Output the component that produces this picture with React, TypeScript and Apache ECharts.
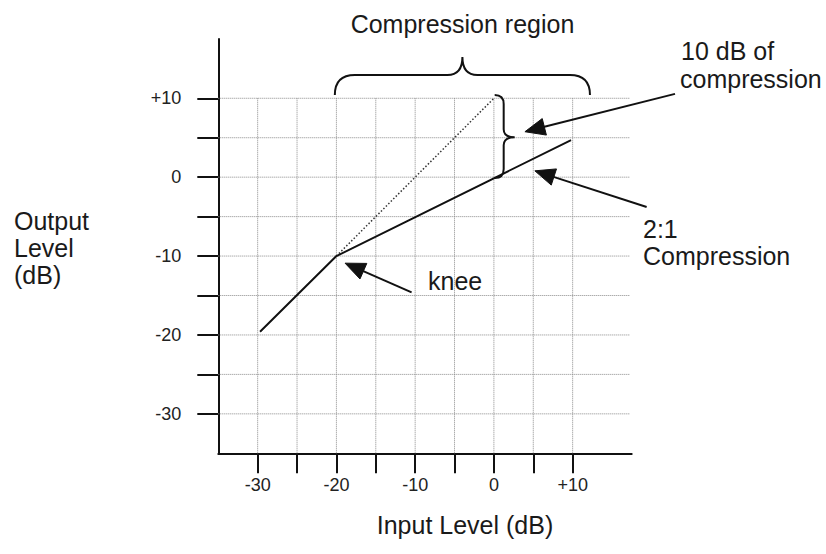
import React, { useEffect, useRef } from 'react';
import * as echarts from 'echarts';

// ---- data ----
const xTickValues = [-30, -25, -20, -15, -10, -5, 0, 5, 10];
const xLabelValues = [-30, -20, -10, 0, 10];
const yTickValues = [-30, -25, -20, -15, -10, -5, 0, 5, 10];
const yLabelValues = [-30, -20, -10, 0, 10];
const inputLevels = [-29.7, -20, 9.8];
const outputLevels = [-19.6, -10, 4.7];
const uncompressedInput = [-20, 0];
const uncompressedOutput = [-10, 10];

// ---- layout (data-space anchors for annotations) ----
const AXIS_MIN = -35;
const AXIS_MAX = 17.5;
const GRID_X_END = 17.3;
const GRID_Y_TOP = 10;
const BRACE_H = { x0: -20.2, x1: 12.2, tipX: -4, y: 10.4 };
const BRACE_V = { x: 0.1, y0: 10.4, y1: -0.1, tipY: 5.05 };
const ARROWS = [
  { from: [23.0, 10.56], to: [3.94, 5.76] },
  { from: [19.4, -3.78], to: [5.2, 0.8] },
  { from: [-10.45, -14.6], to: [-18.9, -10.9] },
];

const FONT = '"Liberation Sans", Arial, sans-serif';
const INK = '#111';

function fmt(v: number) {
  return v > 0 ? '+' + v : String(v);
}

function txt(text: string, x: number, y: number, align = 'left') {
  return {
    type: 'text',
    x,
    y,
    silent: true,
    style: {
      text,
      fontSize: 25,
      fontFamily: FONT,
      lineHeight: 22,
      fill: '#1a1a1a',
      align,
      verticalAlign: 'middle',
      textAlign: align,
      textVerticalAlign: 'middle',
    },
  };
}

export default function App() {
  const ref = useRef<HTMLDivElement>(null);

  useEffect(() => {
    if (!ref.current) return;
    const chart = echarts.init(ref.current, undefined, { renderer: 'svg' });

    const renderAnnotations = (_p: any, api: any) => {
      const P = (x: number, y: number) => api.coord([x, y]);
      const children: any[] = [];
      const stroke = { stroke: INK, lineWidth: 2, fill: 'none' };

      // horizontal brace (compression region)
      const [lx, by] = P(BRACE_H.x0, BRACE_H.y);
      const [rx] = P(BRACE_H.x1, BRACE_H.y);
      const [mx] = P(BRACE_H.tipX, BRACE_H.y);
      const barY = by - 20;
      const tipY = by - 38;
      const dH =
        `M${lx} ${by} Q${lx} ${barY} ${lx + 20} ${barY} L${mx - 15} ${barY} ` +
        `Q${mx} ${barY} ${mx} ${tipY} Q${mx} ${barY} ${mx + 15} ${barY} ` +
        `L${rx - 20} ${barY} Q${rx} ${barY} ${rx} ${by}`;
      children.push({ type: 'path', shape: { pathData: dH }, style: stroke });

      // vertical brace (10 dB)
      const [tx, ty] = P(BRACE_V.x, BRACE_V.y0);
      const [, bty] = P(BRACE_V.x, BRACE_V.y1);
      const [, my] = P(BRACE_V.x, BRACE_V.tipY);
      const barX = tx + 9;
      const tipX = tx + 20;
      const dV =
        `M${tx} ${ty} Q${barX} ${ty} ${barX} ${ty + 9} L${barX} ${my - 8} ` +
        `Q${barX} ${my} ${tipX} ${my} Q${barX} ${my} ${barX} ${my + 8} ` +
        `L${barX} ${bty - 9} Q${barX} ${bty} ${tx} ${bty}`;
      children.push({ type: 'path', shape: { pathData: dV }, style: stroke });

      // arrows
      ARROWS.forEach((a) => {
        const [x1, y1] = P(a.from[0], a.from[1]);
        const [x2, y2] = P(a.to[0], a.to[1]);
        const dx = x2 - x1;
        const dy = y2 - y1;
        const len = Math.sqrt(dx * dx + dy * dy);
        const ux = dx / len;
        const uy = dy / len;
        const L = 20;
        const W = 8.5;
        const bx = x2 - ux * L;
        const byy = y2 - uy * L;
        children.push({
          type: 'line',
          shape: { x1, y1, x2: bx + ux * 2, y2: byy + uy * 2 },
          style: { stroke: INK, lineWidth: 2 },
        });
        children.push({
          type: 'polygon',
          shape: {
            points: [
              [x2, y2],
              [bx - uy * W, byy + ux * W],
              [bx + uy * W, byy - ux * W],
            ],
          },
          style: { fill: INK, stroke: INK, lineWidth: 1 },
        });
      });

      return { type: 'group', children };
    };

    const option: any = {
      animation: false,
      backgroundColor: '#ffffff',
      grid: {
        left: 218.3,
        top: 39.1,
        right: 826 - 631.7,
        bottom: 554 - 453.3,
        containLabel: false,
        outerBoundsMode: 'none',
      },
      xAxis: {
        type: 'value',
        min: AXIS_MIN,
        max: AXIS_MAX,
        axisLine: { show: true, onZero: false, lineStyle: { color: INK, width: 2 } },
        axisTick: {
          show: true,
          inside: false,
          length: 20,
          customValues: xTickValues,
          lineStyle: { color: INK, width: 2 },
        },
        axisLabel: {
          show: true,
          customValues: xLabelValues,
          formatter: (v: number) => fmt(v),
          fontSize: 18,
          fontFamily: FONT,
          color: '#222',
          margin: 23,
        },
        splitLine: { show: false },
      },
      yAxis: {
        type: 'value',
        min: AXIS_MIN,
        max: AXIS_MAX,
        axisLine: { show: true, onZero: false, lineStyle: { color: INK, width: 2 } },
        axisTick: {
          show: true,
          inside: false,
          length: 21,
          customValues: yTickValues,
          lineStyle: { color: INK, width: 2 },
        },
        axisLabel: {
          show: true,
          customValues: yLabelValues,
          formatter: (v: number) => fmt(v),
          fontSize: 18,
          fontFamily: FONT,
          color: '#222',
          margin: 37,
          padding: [0, 0, 5, 0],
        },
        splitLine: { show: false },
      },
      series: [
        {
          type: 'custom',
          name: 'hgrid',
          z: 1,
          silent: true,
          clip: false,
          data: yTickValues.map((v) => [AXIS_MIN, v]),
          renderItem: (_p: any, api: any) => {
            const v = api.value(1);
            const a = api.coord([AXIS_MIN, v]);
            const b = api.coord([GRID_X_END, v]);
            return {
              type: 'line',
              shape: { x1: a[0], y1: a[1], x2: b[0], y2: b[1] },
              style: { stroke: '#8a8a8a', lineWidth: 1, lineDash: [1, 1] },
            };
          },
        },
        {
          type: 'custom',
          name: 'vgrid',
          z: 1,
          silent: true,
          clip: false,
          data: xTickValues.map((v) => [v, AXIS_MIN]),
          renderItem: (_p: any, api: any) => {
            const v = api.value(0);
            const a = api.coord([v, AXIS_MIN]);
            const b = api.coord([v, GRID_Y_TOP]);
            return {
              type: 'line',
              shape: { x1: a[0], y1: a[1], x2: b[0], y2: b[1] },
              style: { stroke: '#8a8a8a', lineWidth: 1, lineDash: [1, 1] },
            };
          },
        },
        {
          type: 'line',
          name: 'uncompressed',
          z: 3,
          silent: true,
          symbol: 'none',
          data: uncompressedInput.map((x, i) => [x, uncompressedOutput[i]]),
          lineStyle: { color: '#333', width: 1.5, type: [1.5, 2] },
        },
        {
          type: 'line',
          name: 'compressed',
          z: 4,
          silent: true,
          symbol: 'none',
          data: inputLevels.map((x, i) => [x, outputLevels[i]]),
          lineStyle: { color: INK, width: 2 },
        },
        {
          type: 'custom',
          name: 'annotations',
          z: 5,
          silent: true,
          clip: false,
          data: [[0, 0]],
          renderItem: renderAnnotations,
        },
      ],
      graphic: [
        txt('Compression region', 462.5, 24, 'center'),
        txt('10 dB of', 681, 51),
        txt('compression', 680, 79),
        txt('2:1', 643, 229),
        txt('Compression', 643, 256),
        txt('knee', 428, 281),
        txt('Output', 14, 221),
        txt('Level', 14, 248),
        txt('(dB)', 14, 275),
        txt('Input Level (dB)', 465, 525, 'center'),
      ],
    };

    chart.setOption(option);
    return () => chart.dispose();
  }, []);

  return (
    <div
      ref={ref}
      style={{ position: 'fixed', left: 0, top: 0, width: 826, height: 554, background: '#fff' }}
    />
  );
}
